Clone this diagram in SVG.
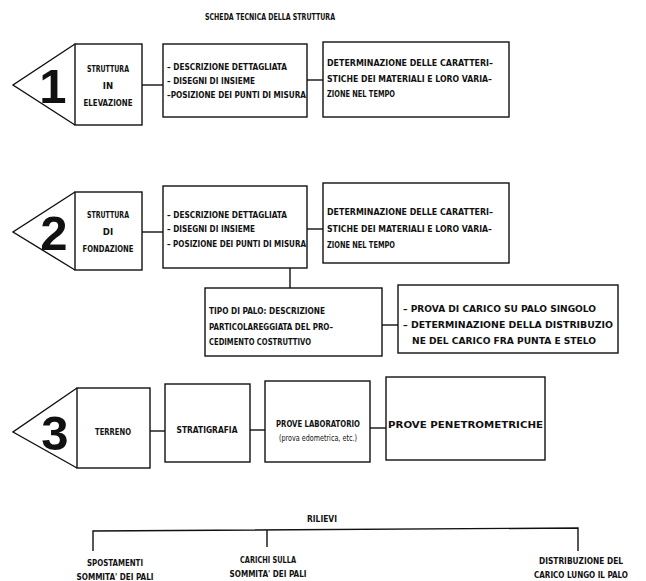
<svg xmlns="http://www.w3.org/2000/svg" width="646" height="581" viewBox="0 0 646 581">
<style>
.bg{fill:#fff}
.box{fill:none;stroke:#111;stroke-width:1.4}
.ln{fill:none;stroke:#111;stroke-width:1.4}
.t{font-family:"Liberation Sans Narrow","DejaVu Sans Condensed","Liberation Sans",sans-serif;font-size:9.5px;font-weight:bold;fill:#111}
.tc{text-anchor:middle}
.big{font-family:"Liberation Sans","Arial",sans-serif;font-size:49px;font-weight:bold;fill:#111;text-anchor:middle}
.sm{font-family:"Liberation Sans Narrow","DejaVu Sans Condensed","Liberation Sans",sans-serif;font-size:8px;fill:#111;text-anchor:middle}
</style>
<rect class="bg" width="646" height="581"/>
<text id="title" class="t" x="205" y="20" textLength="130" lengthAdjust="spacingAndGlyphs" style="font-size:8.5px">SCHEDA TECNICA DELLA STRUTTURA</text>

<g id="connectors">
<line class="ln" x1="142" y1="85" x2="163" y2="85"/>
<line class="ln" x1="307" y1="80" x2="323" y2="80"/>
<line class="ln" x1="142" y1="232" x2="163" y2="232"/>
<line class="ln" x1="307" y1="229" x2="323" y2="229"/>
<line class="ln" x1="290" y1="268" x2="290" y2="288"/>
<line class="ln" x1="382" y1="325" x2="398" y2="325"/>
<line class="ln" x1="150" y1="431" x2="165" y2="431"/>
<line class="ln" x1="250" y1="430" x2="265" y2="430"/>
<line class="ln" x1="370" y1="428" x2="386" y2="428"/>
<polyline class="ln" points="93,551 93,531 578,528 578,551"/>
<line class="ln" x1="267" y1="530" x2="267" y2="547"/>
</g>

<g id="n1">
<polyline class="ln" points="75,44 13,85 75,125"/>
<text class="big" x="53" y="103">1</text>
<rect class="box" x="75" y="44" width="67" height="81"/>
<text class="t tc" x="108" y="72" textLength="42" lengthAdjust="spacingAndGlyphs">STRUTTURA</text>
<text class="t tc" x="108" y="89">IN</text>
<text class="t tc" x="108" y="106" textLength="49" lengthAdjust="spacingAndGlyphs">ELEVAZIONE</text>
</g>
<g id="n1b">
<rect class="box" x="163" y="44" width="144" height="73"/>
<text class="t" x="167" y="70" textLength="120" lengthAdjust="spacingAndGlyphs">– DESCRIZIONE DETTAGLIATA</text>
<text class="t" x="167" y="84" textLength="88" lengthAdjust="spacingAndGlyphs">– DISEGNI DI INSIEME</text>
<text class="t" x="167" y="98" textLength="139" lengthAdjust="spacingAndGlyphs">–POSIZIONE DEI PUNTI DI MISURA</text>
</g>
<g id="n1c">
<rect class="box" x="323" y="42" width="186" height="75"/>
<text class="t" x="327" y="66" textLength="166" lengthAdjust="spacingAndGlyphs">DETERMINAZIONE DELLE CARATTERI–</text>
<text class="t" x="327" y="82" textLength="165" lengthAdjust="spacingAndGlyphs">STICHE DEI MATERIALI E LORO VARIA–</text>
<text class="t" x="327" y="97" textLength="68" lengthAdjust="spacingAndGlyphs">ZIONE NEL TEMPO</text>
</g>

<g id="n2">
<polyline class="ln" points="75,192 13,232 75,270"/>
<text class="big" x="54" y="250">2</text>
<rect class="box" x="75" y="192" width="67" height="78"/>
<text class="t tc" x="108" y="218" textLength="42" lengthAdjust="spacingAndGlyphs">STRUTTURA</text>
<text class="t tc" x="108" y="235">DI</text>
<text class="t tc" x="108" y="252" textLength="51" lengthAdjust="spacingAndGlyphs">FONDAZIONE</text>
</g>
<g id="n2b">
<rect class="box" x="163" y="186" width="144" height="82"/>
<text class="t" x="167" y="218" textLength="120" lengthAdjust="spacingAndGlyphs">– DESCRIZIONE DETTAGLIATA</text>
<text class="t" x="167" y="232" textLength="88" lengthAdjust="spacingAndGlyphs">– DISEGNI DI INSIEME</text>
<text class="t" x="167" y="247" textLength="139" lengthAdjust="spacingAndGlyphs">– POSIZIONE DEI PUNTI DI MISURA</text>
</g>
<g id="n2c">
<rect class="box" x="323" y="183" width="186" height="80"/>
<text class="t" x="327" y="215" textLength="166" lengthAdjust="spacingAndGlyphs">DETERMINAZIONE DELLE CARATTERI–</text>
<text class="t" x="327" y="232" textLength="165" lengthAdjust="spacingAndGlyphs">STICHE DEI MATERIALI E LORO VARIA–</text>
<text class="t" x="327" y="248" textLength="68" lengthAdjust="spacingAndGlyphs">ZIONE NEL TEMPO</text>
</g>
<g id="n2d">
<rect class="box" x="205" y="288" width="177" height="68"/>
<text class="t" x="209" y="314" textLength="116" lengthAdjust="spacingAndGlyphs">TIPO DI PALO: DESCRIZIONE</text>
<text class="t" x="209" y="330" textLength="124" lengthAdjust="spacingAndGlyphs">PARTICOLAREGGIATA DEL PRO–</text>
<text class="t" x="209" y="345" textLength="102" lengthAdjust="spacingAndGlyphs">CEDIMENTO COSTRUTTIVO</text>
</g>
<g id="n2e">
<rect class="box" x="398" y="285" width="220" height="68"/>
<text class="t" x="403" y="312" textLength="193" lengthAdjust="spacingAndGlyphs">– PROVA DI CARICO SU PALO SINGOLO</text>
<text class="t" x="403" y="328" textLength="210" lengthAdjust="spacingAndGlyphs">– DETERMINAZIONE DELLA DISTRIBUZIO</text>
<text class="t" x="412" y="344" textLength="184" lengthAdjust="spacingAndGlyphs">NE DEL CARICO FRA PUNTA E STELO</text>
</g>

<g id="n3">
<polyline class="ln" points="77,388 13,432 77,468"/>
<text class="big" x="55" y="450">3</text>
<rect class="box" x="77" y="388" width="73" height="80"/>
<text class="t tc" x="113" y="435" textLength="36" lengthAdjust="spacingAndGlyphs">TERRENO</text>
</g>
<g id="n3b">
<rect class="box" x="165" y="384" width="85" height="78"/>
<text class="t tc" x="207" y="433" textLength="61" lengthAdjust="spacingAndGlyphs">STRATIGRAFIA</text>
</g>
<g id="n3c">
<rect class="box" x="265" y="381" width="105" height="81"/>
<text class="t tc" x="318" y="427" textLength="84" lengthAdjust="spacingAndGlyphs">PROVE LABORATORIO</text>
<text class="sm" x="318" y="441" textLength="78" lengthAdjust="spacingAndGlyphs">(prova edometrica, etc.)</text>
</g>
<g id="n3d">
<rect class="box" x="386" y="377" width="159" height="83"/>
<text class="t" x="388" y="428" textLength="155" lengthAdjust="spacingAndGlyphs">PROVE PENETROMETRICHE</text>
</g>

<g id="rilievi">
<text class="t tc" x="322" y="522" textLength="30" lengthAdjust="spacingAndGlyphs">RILIEVI</text>
</g>
<g id="r1">
<text class="t tc" x="115" y="566" textLength="56" lengthAdjust="spacingAndGlyphs">SPOSTAMENTI</text>
<text class="t tc" x="115" y="580" textLength="77" lengthAdjust="spacingAndGlyphs">SOMMITA' DEI PALI</text>
</g>
<g id="r2">
<text class="t tc" x="268" y="563" textLength="56" lengthAdjust="spacingAndGlyphs">CARICHI SULLA</text>
<text class="t tc" x="268" y="577" textLength="77" lengthAdjust="spacingAndGlyphs">SOMMITA' DEI PALI</text>
</g>
<g id="r3">
<text class="t tc" x="581" y="564" textLength="84" lengthAdjust="spacingAndGlyphs">DISTRIBUZIONE DEL</text>
<text class="t tc" x="581" y="578" textLength="94" lengthAdjust="spacingAndGlyphs">CARICO LUNGO IL PALO</text>
</g>
</svg>
